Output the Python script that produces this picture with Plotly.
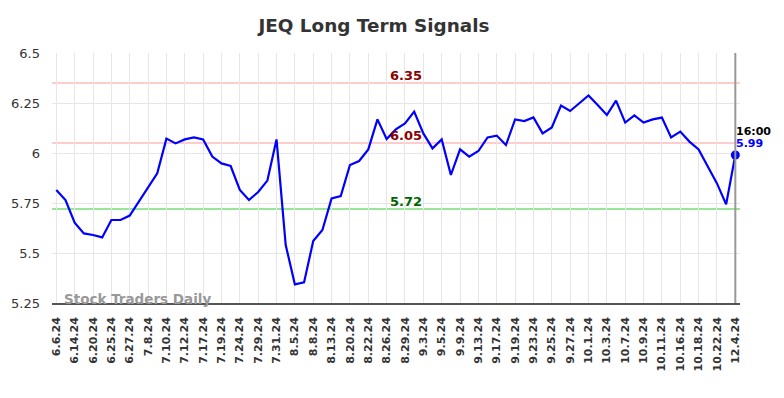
import plotly.graph_objects as go

tick_labels = ["6.6.24", "6.14.24", "6.20.24", "6.25.24", "6.27.24", "7.8.24", "7.10.24",
               "7.12.24", "7.17.24", "7.19.24", "7.24.24", "7.29.24", "7.31.24", "8.5.24",
               "8.8.24", "8.13.24", "8.20.24", "8.22.24", "8.26.24", "8.29.24", "9.3.24",
               "9.5.24", "9.9.24", "9.13.24", "9.17.24", "9.19.24", "9.23.24", "9.25.24",
               "9.27.24", "10.1.24", "10.3.24", "10.7.24", "10.9.24", "10.11.24", "10.16.24",
               "10.18.24", "10.22.24", "12.4.24"]

values = [5.815, 5.765, 5.652, 5.598, 5.59, 5.578, 5.665, 5.665, 5.687, 5.757,
          5.832, 5.898, 6.072, 6.048, 6.068, 6.078, 6.068, 5.982, 5.948, 5.935,
          5.815, 5.765, 5.805, 5.862, 6.068, 5.54, 5.343, 5.353, 5.56, 5.615,
          5.773, 5.785, 5.94, 5.96, 6.018, 6.168, 6.07, 6.118, 6.148, 6.207,
          6.098, 6.023, 6.068, 5.89, 6.018, 5.982, 6.01, 6.078, 6.087, 6.04,
          6.168, 6.16, 6.178, 6.098, 6.128, 6.237, 6.21, 6.248, 6.288, 6.24,
          6.19, 6.262, 6.152, 6.188, 6.152, 6.168, 6.177, 6.078, 6.107, 6.057,
          6.018, 5.932, 5.848, 5.743, 5.99]

resistance_high = 6.35
resistance_low = 6.05
support = 5.72
last_time = "16:00"

x = list(range(len(values)))
tick_vals = list(range(0, len(values), 2))

fig = go.Figure()
fig.add_trace(go.Scatter(x=x, y=values, mode="lines",
                         line=dict(color="#0000ff", width=2.2),
                         hoverinfo="skip", showlegend=False))
fig.add_trace(go.Scatter(x=[x[-1]], y=[values[-1]], mode="markers",
                         marker=dict(color="#0000ff", size=9),
                         hoverinfo="skip", showlegend=False))

for lvl, col in [(resistance_high, "#ffcccc"), (resistance_low, "#ffcccc"), (support, "#99e699")]:
    fig.add_shape(type="line", xref="paper", yref="y", x0=0, x1=1, y0=lvl, y1=lvl,
                  line=dict(color=col, width=2), layer="below")

fig.add_shape(type="line", xref="x", yref="paper", x0=x[-1], x1=x[-1], y0=0, y1=1,
              line=dict(color="#999999", width=2))

for lvl, col in [(resistance_high, "#8b0000"), (resistance_low, "#8b0000"), (support, "#006400")]:
    fig.add_annotation(x=0.515, xref="paper", y=lvl, yref="y", text=f"<b>{lvl:.2f}</b>",
                       showarrow=False, yshift=8, font=dict(color=col, size=13,
                                                             family="DejaVu Sans"))

fig.add_annotation(x=x[-1], y=values[-1], xref="x", yref="y", text=f"<b>{last_time}</b>",
                   showarrow=False, xanchor="left", xshift=-1, yshift=24,
                   font=dict(color="black", size=11, family="DejaVu Sans"))
fig.add_annotation(x=x[-1], y=values[-1], xref="x", yref="y", text=f"<b>{values[-1]:.2f}</b>",
                   showarrow=False, xanchor="left", xshift=-1, yshift=12,
                   font=dict(color="#0000ff", size=11, family="DejaVu Sans"))

fig.add_annotation(x=0.015, xref="paper", y=0, yref="paper", text="<b>Stock Traders Daily</b>",
                   showarrow=False, xanchor="left", yanchor="bottom", yshift=-6,
                   font=dict(color="#999999", size=13.5, family="DejaVu Sans"))

fig.update_layout(
    width=776, height=390,
    margin=dict(l=44, r=44, t=45, b=95),
    paper_bgcolor="white", plot_bgcolor="white",
    title=dict(text="<b>JEQ Long Term Signals</b>", x=0.4716, xanchor="center", y=0.955,
               yanchor="middle", font=dict(size=18.4, color="#333333", family="DejaVu Sans")),
    xaxis=dict(range=[-0.47, 74.51], tickvals=tick_vals, ticktext=tick_labels,
               tickangle=-90, showgrid=True, gridcolor="#e6e6e6", gridwidth=1,
               tickfont=dict(size=11, color="#333333", family="DejaVu Sans", weight="bold"),
               showline=True, linecolor="#555555", linewidth=1.5, zeroline=False,
               ticks="", ticklen=0, ticklabelstandoff=8, automargin=False),
    yaxis=dict(range=[5.25, 6.5], tickvals=[5.25, 5.5, 5.75, 6, 6.25, 6.5],
               ticktext=["5.25", "5.5", "5.75", "6", "6.25", "6.5"],
               showgrid=True, gridcolor="#e6e6e6", gridwidth=1, zeroline=False,
               tickfont=dict(size=13, color="#333333", family="DejaVu Sans"),
               ticks="", ticklen=0, ticklabelstandoff=11, automargin=False),
)

fig.write_html("out.html")
